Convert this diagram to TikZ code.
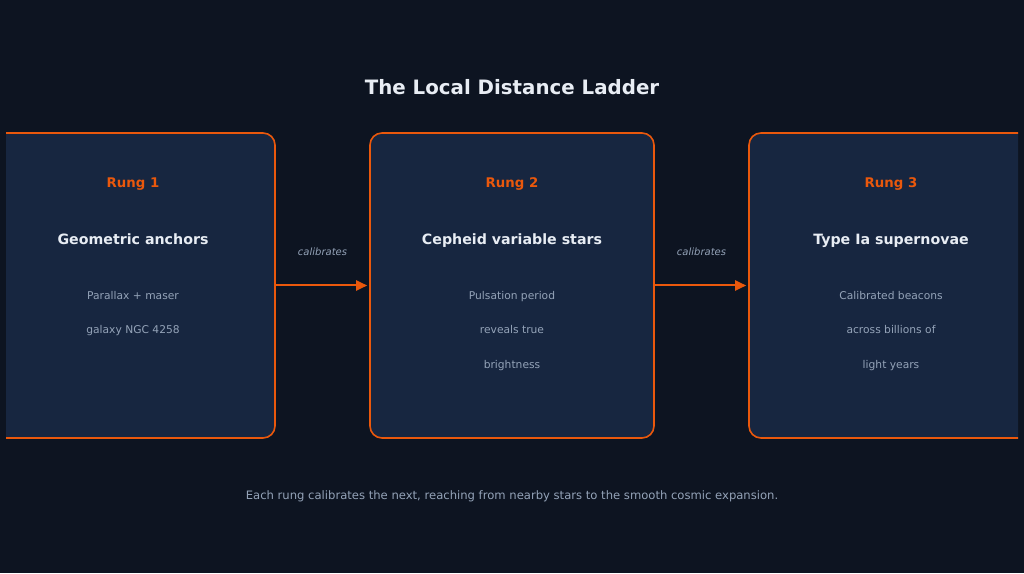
\documentclass[tikz,border=0pt]{standalone}
\usepackage{fontspec}
\setmainfont{DejaVu Sans}
\usetikzlibrary{calc,arrows.meta}
\definecolor{bgnight}{HTML}{0D1421}
\definecolor{boxnavy}{HTML}{172640}
\definecolor{rungorange}{HTML}{EA580C}
\definecolor{headwhite}{HTML}{E8EDF4}
\definecolor{bodygray}{HTML}{94A3B8}
\tikzset{
	rungbox/.style={draw=rungorange, line width=1.6pt, fill=boxnavy, rounded corners=12pt,
		minimum width=284pt, minimum height=305pt, inner sep=0pt},
	rungtag/.style={anchor=base, text=rungorange, font=\bfseries\fontsize{13.3}{15}\selectfont},
	runghead/.style={anchor=base, text=headwhite, font=\bfseries\fontsize{14.2}{17}\selectfont},
	rungtext/.style={anchor=base, text=bodygray, font=\fontsize{10.7}{12}\selectfont},
	calarrow/.style={rungorange, line width=2pt, -{Triangle[length=11pt,width=10pt]}, shorten >=2pt},
	callabel/.style={anchor=base, text=bodygray, font=\itshape\fontsize{10}{12}\selectfont}
}
\begin{document}
\begin{tikzpicture}[x=1pt, y=1pt]
			%%%%% START %%%%%
			
			\fill[bgnight] (0, 0) rectangle (1024, 573);
			\useasboundingbox (0, 0) rectangle (1024, 573);
			
			\node[anchor=base, text=headwhite, font=\bfseries\fontsize{19.8}{24}\selectfont] (title) at (512, 478.5) {The Local Distance Ladder};
			
			\begin{scope}
			\clip (6, 0) rectangle (1018, 573);
			\node[rungbox] (rung1) at (133, 287.5) {};
			\node[rungbox] (rung2) at (512, 287.5) {};
			\node[rungbox] (rung3) at (891, 287.5) {};
			\end{scope}
			
			% rung 1
			\node[rungtag] (tag1) at (133, 385.5) {Rung 1};
			\node[runghead] (head1) at (133, 328.5) {Geometric anchors};
			\node[rungtext] (text1a) at (133, 273.5) {Parallax + maser};
			\node[rungtext] (text1b) at (133, 239) {galaxy NGC 4258};
			
			% rung 2
			\node[rungtag] (tag2) at (512, 385.5) {Rung 2};
			\node[runghead] (head2) at (512, 328.5) {Cepheid variable stars};
			\node[rungtext] (text2a) at (512, 273.5) {Pulsation period};
			\node[rungtext] (text2b) at (512, 239) {reveals true};
			\node[rungtext] (text2c) at (512, 204.5) {brightness};
			
			% rung 3
			\node[rungtag] (tag3) at (891, 385.5) {Rung 3};
			\node[runghead] (head3) at (891, 328.5) {Type Ia supernovae};
			\node[rungtext] (text3a) at (891, 273.5) {Calibrated beacons};
			\node[rungtext] (text3b) at (891, 239) {across billions of};
			\node[rungtext] (text3c) at (891, 204.5) {light years};
			
			% arrows between rungs
			\draw[calarrow] (rung1.east) -- (rung2.west);
			\node[callabel] (cal1) at ($(rung1.east)!0.5!(rung2.west)+(0, 29.5)$) {calibrates};
			\draw[calarrow] (rung2.east) -- (rung3.west);
			\node[callabel] (cal2) at ($(rung2.east)!0.5!(rung3.west)+(0, 29.5)$) {calibrates};
			
			\node[anchor=base, text=bodygray, font=\fontsize{11.6}{14}\selectfont] (footer) at (512, 74) {Each rung calibrates the next, reaching from nearby stars to the smooth cosmic expansion.};
			
			%%%%% END %%%%%
\end{tikzpicture}
\end{document}
